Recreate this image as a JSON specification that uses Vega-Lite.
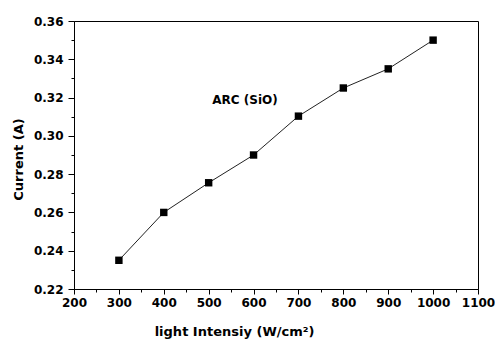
{
  "$schema": "https://vega.github.io/schema/vega-lite/v6.json",
  "autosize": {"type": "none"},
  "padding": {"left": 74, "top": 21, "right": 17, "bottom": 52},
  "width": 404,
  "height": 268,
  "background": "white",
  "config": {
    "view": {"stroke": "black", "strokeWidth": 1},
    "font": "DejaVu Sans",
    "axis": {
      "domainColor": "black",
      "tickColor": "black",
      "labelColor": "black",
      "titleColor": "black",
      "labelFont": "DejaVu Sans",
      "labelFontWeight": "bold",
      "labelFontSize": 12,
      "titleFont": "DejaVu Sans",
      "titleFontWeight": "bold",
      "titleFontSize": 13,
      "grid": false
    }
  },
  "encoding": {
    "x": {
      "field": "intensity",
      "type": "quantitative",
      "scale": {"domain": [200, 1100], "nice": false, "zero": false},
      "axis": {
        "title": "light Intensiy   (W/cm²)",
        "values": [200, 250, 300, 350, 400, 450, 500, 550, 600, 650, 700, 750, 800, 850, 900, 950, 1000, 1050, 1100],
        "format": "d",
        "labelExpr": "datum.value % 100 === 0 ? datum.label : ''",
        "tickSize": {"condition": {"test": "datum.value % 100 === 0", "value": 5}, "value": 3},
        "labelPadding": 3,
        "labelFlush": false,
        "labelOverlap": false,
        "titleX": 160,
        "titleY": 46,
        "titleAlign": "center",
        "titleBaseline": "alphabetic"
      }
    },
    "y": {
      "field": "current",
      "type": "quantitative",
      "scale": {"domain": [0.22, 0.36], "nice": false, "zero": false},
      "axis": {
        "title": "Current (A)",
        "values": [0.22, 0.23, 0.24, 0.25, 0.26, 0.27, 0.28, 0.29, 0.3, 0.31, 0.32, 0.33, 0.34, 0.35, 0.36],
        "format": ".2f",
        "labelExpr": "round(datum.value * 100) % 2 === 0 ? datum.label : ''",
        "tickSize": {"condition": {"test": "round(datum.value * 100) % 2 === 0", "value": 6}, "value": 3},
        "labelPadding": 5,
        "labelFlush": false,
        "labelOverlap": false,
        "titleX": -56,
        "titleY": 138,
        "titleAngle": -90,
        "titleAlign": "center",
        "titleBaseline": "middle"
      }
    }
  },
  "layer": [
    {
      "data": {
        "values": [
          {"intensity": 300, "current": 0.235},
          {"intensity": 400, "current": 0.26},
          {"intensity": 500, "current": 0.2755},
          {"intensity": 600, "current": 0.29},
          {"intensity": 700, "current": 0.3103},
          {"intensity": 800, "current": 0.325},
          {"intensity": 900, "current": 0.335},
          {"intensity": 1000, "current": 0.35}
        ]
      },
      "layer": [
        {
          "mark": {"type": "line", "color": "#222222", "strokeWidth": 1},
          "encoding": {}
        },
        {
          "mark": {"type": "point", "shape": "square", "filled": true, "color": "black", "size": 55, "opacity": 1},
          "encoding": {}
        }
      ]
    },
    {
      "data": {"values": [{"intensity": 581, "current": 0.3187, "label": "ARC (SiO)"}]},
      "mark": {"type": "text", "font": "DejaVu Sans", "fontWeight": "bold", "fontSize": 12, "color": "black", "align": "center", "baseline": "middle"},
      "encoding": {
        "text": {"field": "label"}
      }
    }
  ]
}
